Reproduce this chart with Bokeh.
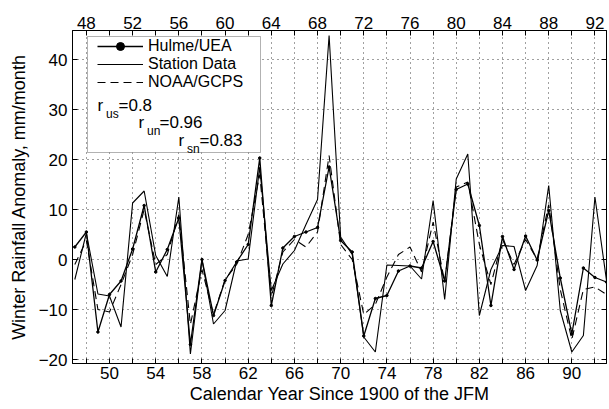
from bokeh.plotting import figure
from bokeh.models import (Range1d, LinearAxis, FixedTicker, Legend, LegendItem,
                          Label, BoxAnnotation)
from bokeh.embed import file_html
from bokeh.resources import INLINE

years = list(range(47, 94))
hulme = [2.5, 5.5, -14.5, -7.0, -4.3, 2.1, 10.8, -2.5, 2.0, 8.3,
         -17.0, 0.0, -11.2, -4.2, -0.5, 3.0, 20.3, -9.2, 2.3, 4.6,
         5.5, 6.4, 18.5, 3.8, 1.5, -15.3, -7.8, -7.2, -2.3, -1.3,
         -1.7, 3.6, -4.3, 14.0, 15.1, 6.8, -9.2, 4.6, -2.0, 4.7,
         -0.1, 9.8, -3.7, -14.9, -1.7, -3.6, -4.5]
station = [-4.0, 5.3, -6.9, -7.3, -13.5, 11.3, 13.7, 0.8, -3.4, 12.5,
           -18.9, 0.0, -12.9, -10.2, -0.3, 0.1, 18.5, -6.2, -0.9, 1.8,
           7.0, 12.0, 44.8, 4.5, 1.0, -15.5, -18.5, -1.1, -1.2, -1.3,
           -3.9, 11.8, -8.0, 16.1, 21.1, -11.2, -2.0, 2.8, 2.6, -6.2,
           -1.2, 14.8, -10.2, -18.5, -15.2, 12.5, -4.2]
noaa = [-1.0, 3.8, -10.0, -10.5, -5.0, 1.0, 10.0, -1.0, 1.0, 9.0,
        -13.0, -2.0, -11.0, -4.0, -1.0, 5.0, 17.0, -7.5, 1.5, 4.0,
        2.5, 5.5, 20.8, 3.0, 0.0, -11.0, -9.0, -3.5, 1.0, 2.5,
        -2.5, 7.5, -4.5, 14.5, 15.5, 3.0, -5.0, 4.0, -1.0, 4.0,
        0.0, 11.0, -6.0, -16.0, -6.0, -5.5, -7.0]

x_ticks_bottom = [50, 54, 58, 62, 66, 70, 74, 78, 82, 86, 90]
x_ticks_top = [48, 52, 56, 60, 64, 68, 72, 76, 80, 84, 88, 92]
y_ticks = [-20, -10, 0, 10, 20, 30, 40]
series_names = ["Hulme/UEA", "Station Data", "NOAA/GCPS"]
r_names = ["us", "un", "sn"]
r_values = ["=0.8", "=0.96", "=0.83"]
x_title = "Calendar Year Since 1900 of the JFM"
y_title = "Winter Rainfall Anomaly, mm/month"

FONT = "Liberation Sans"
FS = "17px"
all_x_ticks = sorted(x_ticks_bottom + x_ticks_top)

p = figure(width=609, height=409, output_backend="svg", toolbar_location=None,
           x_range=Range1d(46.8, 93.0), y_range=Range1d(-20.8, 45.8),
           min_border_left=72, min_border_right=3, min_border_top=30,
           min_border_bottom=46)
p.background_fill_color = "white"
p.border_fill_color = "white"
p.outline_line_color = "black"
p.outline_line_width = 1

def style_axis(ax, ticks, labelled):
    ax.ticker = FixedTicker(ticks=ticks)
    ax.major_label_overrides = {t: ("" if t not in labelled else
                                    ("\u2212" + str(-t) if t < 0 else str(t)))
                                for t in ticks}
    ax.major_tick_in = 5
    ax.major_tick_out = 0
    ax.minor_tick_in = 0
    ax.minor_tick_out = 0
    ax.axis_line_color = "black"
    ax.major_tick_line_color = "black"
    ax.major_label_text_font = FONT
    ax.major_label_text_font_size = FS
    ax.major_label_text_color = "black"
    ax.axis_label_text_font = FONT
    ax.axis_label_text_font_size = "18px"
    ax.axis_label_text_font_style = "normal"
    ax.axis_label_text_color = "black"

xb = p.xaxis[0]
style_axis(xb, all_x_ticks, x_ticks_bottom)
xb.axis_label = x_title
xb.major_label_standoff = 3
xb.axis_label_standoff = 2

yl = p.yaxis[0]
style_axis(yl, y_ticks, y_ticks)
yl.axis_label = y_title
yl.major_label_standoff = 5
yl.axis_label_standoff = 7

xt = LinearAxis()
style_axis(xt, all_x_ticks, x_ticks_top)
xt.major_label_standoff = 2
p.add_layout(xt, "above")

yr = LinearAxis()
style_axis(yr, y_ticks, [])
yr.major_label_text_font_size = "0px"
yr.major_label_standoff = 0
p.add_layout(yr, "right")

p.xgrid.ticker = FixedTicker(ticks=list(range(48, 93, 2)))
p.ygrid.ticker = FixedTicker(ticks=y_ticks)
for g in (p.xgrid[0], p.ygrid[0]):
    g.grid_line_color = "black"
    g.grid_line_alpha = 0.75
    g.grid_line_dash = "1 4"
    g.grid_line_width = 1

r_noaa = p.line(years, noaa, line_color="black", line_width=1.1, line_dash="8 5")
r_station = p.line(years, station, line_color="black", line_width=1.1)
r_hulme = p.line(years, hulme, line_color="black", line_width=1.3)
r_hulme_pts = p.scatter(years, hulme, size=2.5, marker="circle",
                        fill_color="black", line_color="black", line_width=1)

# legend box (screen units relative to the frame)
box = BoxAnnotation(left=15, right=188, top=327, bottom=211,
                    left_units="screen", right_units="screen",
                    top_units="screen", bottom_units="screen",
                    fill_color="white", fill_alpha=1.0,
                    line_color="black", line_width=1, level="annotation")
p.add_layout(box)

legend_rends = [[r_hulme, r_hulme_pts], [r_station], [r_noaa]]
row_y = [307, 289, 271]
for name, rends, ly in zip(series_names, legend_rends, row_y):
    lg = Legend(items=[LegendItem(label=name, renderers=rends)],
                location=(25, ly), margin=0, padding=0, spacing=0,
                glyph_width=46, glyph_height=20, label_height=20,
                label_standoff=5, label_text_font=FONT,
                label_text_font_size="16px", label_text_color="black",
                border_line_color=None, background_fill_alpha=0.0)
    p.add_layout(lg)

r_pos = [(25, 258), (66, 241), (106, 223)]
for (rx, ry), sub, val in zip(r_pos, r_names, r_values):
    p.add_layout(Label(x=rx, y=ry, x_units="screen", y_units="screen",
                       text="r", text_font=FONT, text_font_size=FS,
                       text_baseline="alphabetic", text_color="black"))
    p.add_layout(Label(x=rx + 8.5, y=ry - 8, x_units="screen", y_units="screen",
                       text=sub, text_font=FONT, text_font_size="12px",
                       text_baseline="alphabetic", text_color="black"))
    p.add_layout(Label(x=rx + 21, y=ry, x_units="screen", y_units="screen",
                       text=val, text_font=FONT, text_font_size=FS,
                       text_baseline="alphabetic", text_color="black"))

open("out.html", "w").write(file_html(p, INLINE))
